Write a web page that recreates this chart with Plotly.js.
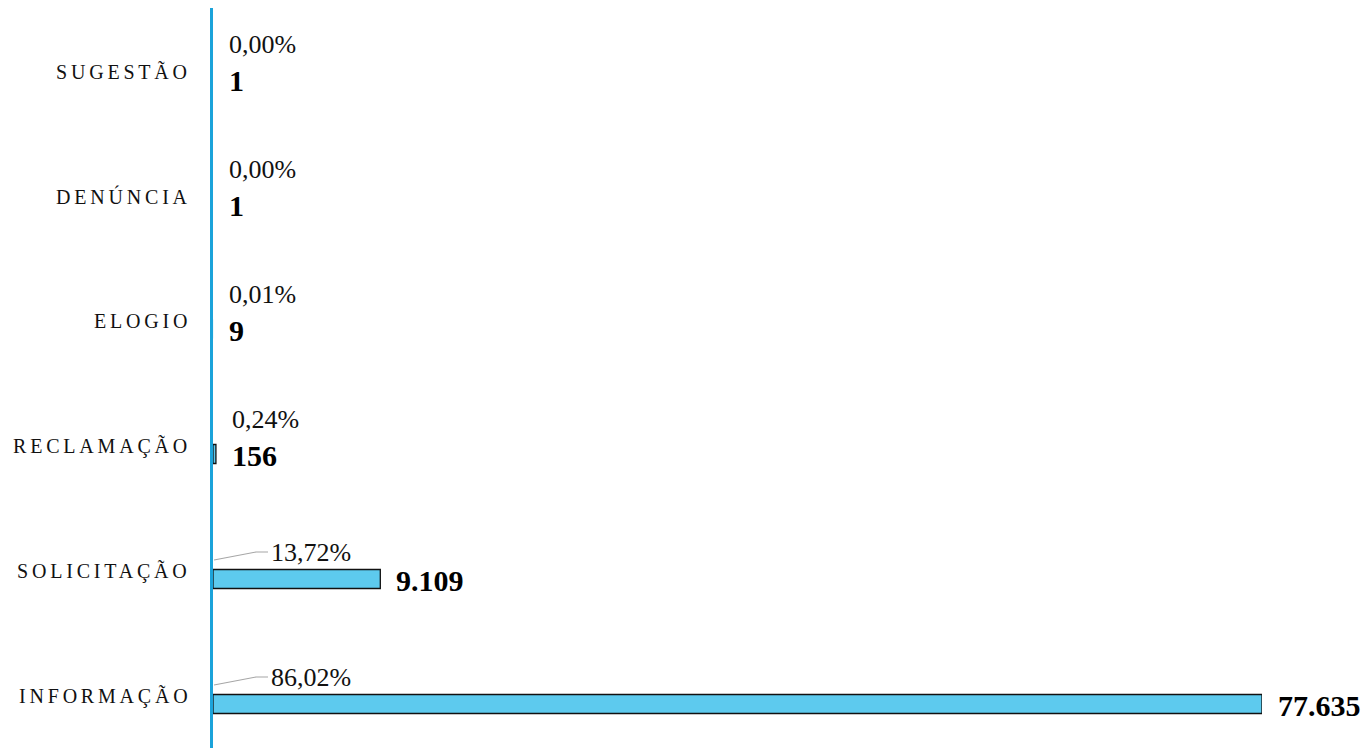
<!DOCTYPE html>
<html>
<head>
<meta charset="utf-8">
<script src="https://cdn.plot.ly/plotly-3.0.1.min.js"></script>
<style>
html,body{margin:0;padding:0;background:#fff;}
#chart{width:1366px;height:754px;}
</style>
</head>
<body>
<div id="chart"></div>
<script>
// Data (bottom to top)
const categories = ["INFORMAÇÃO", "SOLICITAÇÃO", "RECLAMAÇÃO", "ELOGIO", "DENÚNCIA", "SUGESTÃO"];
const percents = [86.02, 13.72, 0.24, 0.01, 0.00, 0.00];
const countLabels = ["77.635", "9.109", "156", "9", "1", "1"];
const pctLabels = ["86,02%", "13,72%", "0,24%", "0,01%", "0,00%", "0,00%"];

const SERIF = "Liberation Serif, Times New Roman, serif";
const maxVal = Math.max(...percents);
const idx = categories.map((_, i) => i);

const trace = {
  type: "bar",
  orientation: "h",
  x: percents,
  y: idx,
  width: 0.152,
  marker: {
    color: "#5DCAEE",
    line: {color: "#111111", width: percents.map(p => (p >= 0.1 ? 1.3 : 0))}
  },
  hoverinfo: "skip"
};

const annotations = [];
const shapes = [];
categories.forEach((c, i) => {
  // category label
  annotations.push({
    xref: "paper", yref: "y", x: 0, y: i, xanchor: "right", yanchor: "middle",
    xshift: -20, yshift: 8, showarrow: false,
    text: '<span style="letter-spacing:3.8px">' + c + '</span>',
    font: {family: SERIF, size: 20, color: "#111"}
  });
  // value label
  annotations.push({
    xref: "x", yref: "y", x: percents[i], y: i, xanchor: "left", yanchor: "middle",
    xshift: 14, yshift: -1, showarrow: false,
    text: "<b>" + countLabels[i] + "</b>",
    font: {family: SERIF, size: 30, color: "#000"}
  });
  // percentage label
  const big = percents[i] / maxVal > 0.05;
  if (big) {
    annotations.push({
      xref: "x", yref: "y", x: 0, y: i, xanchor: "left", yanchor: "middle",
      xshift: 56, yshift: 27, showarrow: false,
      text: pctLabels[i],
      font: {family: SERIF, size: 26, color: "#111"}
    });
    shapes.push({
      type: "path", xref: "x", yref: "y", xsizemode: "pixel", ysizemode: "pixel",
      xanchor: 0, yanchor: i,
      path: "M1,19 L43,27 L55,27",
      line: {color: "#A6A6A6", width: 1.2}
    });
  } else {
    annotations.push({
      xref: "x", yref: "y", x: percents[i], y: i, xanchor: "left", yanchor: "middle",
      xshift: 14, yshift: 35, showarrow: false,
      text: pctLabels[i],
      font: {family: SERIF, size: 26, color: "#111"}
    });
  }
});

const layout = {
  width: 1366, height: 754,
  margin: {l: 213, r: 104, t: 8, b: 6},
  paper_bgcolor: "#fff", plot_bgcolor: "#fff",
  showlegend: false,
  xaxis: {range: [0, maxVal], visible: false, showgrid: false, zeroline: false, fixedrange: true},
  yaxis: {
    range: [-0.352, 5.568], showticklabels: false, ticks: "", showgrid: false, zeroline: false,
    showline: true, linecolor: "#1BA3DA", linewidth: 3, fixedrange: true
  },
  annotations: annotations,
  shapes: shapes
};

Plotly.newPlot("chart", [trace], layout, {displayModeBar: false, staticPlot: true});
</script>
</body>
</html>
